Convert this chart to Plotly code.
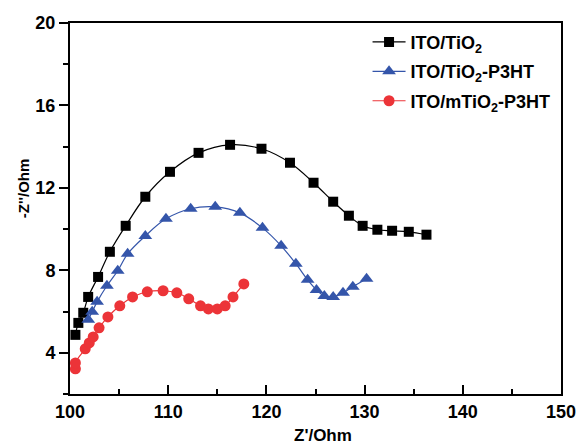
import plotly.graph_objects as go

# ITO/TiO2 (black squares)
x_tio2 = [100.55, 100.85, 101.35, 101.85, 102.86, 104.06, 105.67, 107.67, 110.18, 113.09,
          116.3, 119.5, 122.4, 124.8, 126.8, 128.4, 129.8, 131.3, 132.8, 134.5, 136.3]
y_tio2 = [4.87, 5.45, 5.94, 6.71, 7.68, 8.90, 10.16, 11.57, 12.78, 13.70,
          14.09, 13.90, 13.22, 12.25, 11.33, 10.65, 10.16, 9.97, 9.92, 9.87, 9.73]

# ITO/TiO2-P3HT (blue triangles)
x_p3ht = [101.86, 102.26, 102.76, 103.76, 104.86, 105.87, 107.67, 109.77, 112.29, 114.79,
          117.3, 119.6, 121.5, 123.0, 124.2, 125.1, 125.9, 126.8, 127.8, 128.8, 130.2]
y_p3ht = [5.60, 5.99, 6.47, 7.25, 7.98, 8.80, 9.67, 10.50, 10.99, 11.08,
          10.79, 10.06, 9.19, 8.32, 7.54, 7.05, 6.76, 6.71, 6.91, 7.20, 7.59]

# ITO/mTiO2-P3HT (red circles)
x_m = [100.55, 100.55, 101.55, 101.96, 102.36, 102.96, 103.86, 105.07, 106.37, 107.87,
       109.48, 110.88, 112.09, 113.29, 114.09, 115.0, 115.8, 116.6, 117.7]
y_m = [3.22, 3.51, 4.19, 4.48, 4.77, 5.21, 5.74, 6.28, 6.71, 6.96,
       7.01, 6.91, 6.62, 6.28, 6.13, 6.13, 6.28, 6.71, 7.34]

names = ["ITO/TiO<sub>2</sub>", "ITO/TiO<sub>2</sub>-P3HT", "ITO/mTiO<sub>2</sub>-P3HT"]

FONT = "Liberation Sans"
BLACK = "#000000"
BLUE = "#3455aa"
RED = "#ec3438"

fig = go.Figure()
fig.add_trace(go.Scatter(x=x_tio2, y=y_tio2, name=names[0], mode="lines+markers",
                         legendgroup="a",
                         line=dict(color=BLACK, width=1.2, shape="spline"),
                         marker=dict(symbol="square", size=10, color=BLACK)))
fig.add_trace(go.Scatter(x=x_p3ht, y=y_p3ht, name=names[1], mode="lines+markers",
                         legendgroup="b",
                         line=dict(color=BLUE, width=1.2, shape="spline"),
                         marker=dict(symbol="triangle-up", size=12, color=BLUE)))
fig.add_trace(go.Scatter(x=x_m, y=y_m, name=names[2], mode="lines+markers",
                         legendgroup="c",
                         line=dict(color=RED, width=1.2, shape="spline"),
                         marker=dict(symbol="circle", size=11, color=RED)))

fig.update_layout(
    width=588, height=444,
    margin=dict(l=70, r=20, t=23, b=50),
    paper_bgcolor="white", plot_bgcolor="white",
    font=dict(family=FONT, size=16, color="black"),
    showlegend=True,
    legend=dict(x=0.606, y=0.998, xanchor="left", yanchor="top",
                bgcolor="rgba(0,0,0,0)", borderwidth=0,
                font=dict(family=FONT, size=18, color="black", weight="bold"),
                tracegroupgap=3, itemsizing="trace", itemwidth=33),
    xaxis=dict(range=[100, 150], tick0=100, dtick=10, ticks="inside", ticklen=9,
               tickwidth=1.5, tickcolor="black",
               minor=dict(dtick=5, ticks="inside", ticklen=5, tickwidth=1.5, tickcolor="black"),
               showline=True, linewidth=2, linecolor="black", mirror=True,
               showgrid=False, zeroline=False,
               tickfont=dict(family=FONT, size=18, color="black", weight="bold")),
    yaxis=dict(range=[2, 20], tick0=0, dtick=4, ticks="outside", ticklen=9,
               tickwidth=1.5, tickcolor="black",
               minor=dict(dtick=2, ticks="outside", ticklen=5, tickwidth=1.5, tickcolor="black"),
               showline=True, linewidth=2, linecolor="black", mirror=True,
               showgrid=False, zeroline=False,
               tickfont=dict(family=FONT, size=18, color="black", weight="bold")),
    annotations=[
        dict(text="<b>Z'/Ohm</b>", xref="paper", yref="paper", x=0.516, y=-0.112,
             xanchor="center", yanchor="middle", showarrow=False,
             font=dict(family=FONT, size=17, color="black")),
        dict(text="<b>-Z''/Ohm</b>", xref="paper", yref="paper", x=-0.0954, y=0.555,
             xanchor="center", yanchor="middle", showarrow=False, textangle=-90,
             font=dict(family=FONT, size=15, color="black")),
    ],
)

fig.write_html("out.html", config={"displayModeBar": False},
               post_script="document.body.style.margin='0';")
